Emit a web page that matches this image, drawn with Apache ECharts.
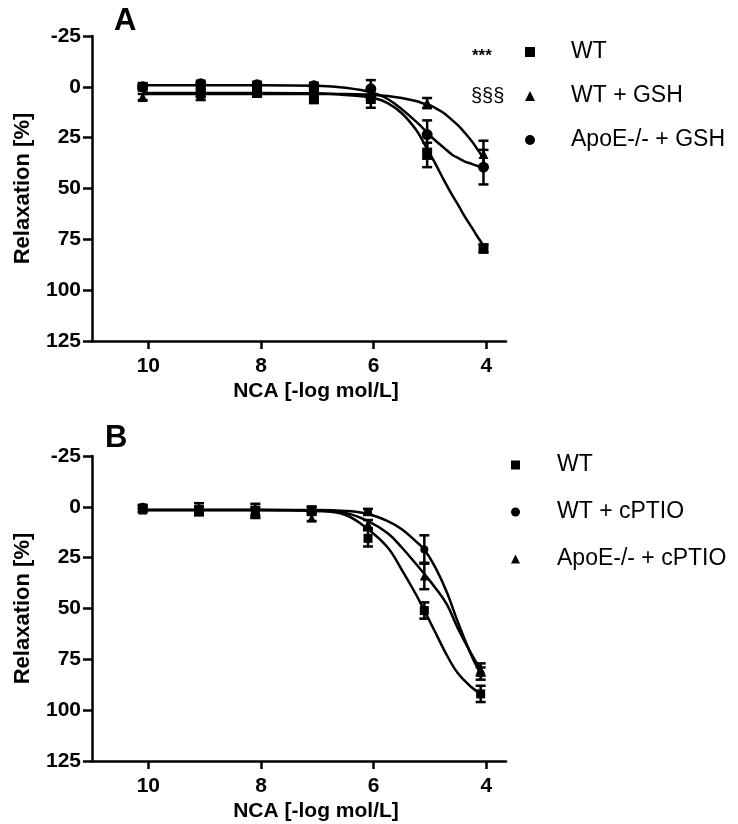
<!DOCTYPE html>
<html>
<head>
<meta charset="utf-8">
<script src="https://cdn.jsdelivr.net/npm/echarts@6/dist/echarts.min.js"></script>
<style>
html,body{margin:0;padding:0;background:#fff;}
#chart{width:738px;height:824px;}
</style>
</head>
<body>
<div id="chart"></div>
<script>
// ---------- data ----------
var xTicks = [10, 8, 6, 4];
var yTicks = [-25, 0, 25, 50, 75, 100, 125];

// Panel A
var namesA = ['WT', 'WT + GSH', 'ApoE-/- + GSH'];
var xA = [10.1, 9.07, 8.07, 7.06, 6.05, 5.05, 4.05];
var wtA = [0, 3, 3, 5, 6, 33.5, 79.5];
var wtAsem = [1, 2, 1.5, 3, 4.3, 6, 2];
var gshA = [5, 4.5, 3, 3, 3.5, 8, 33];
var gshAsem = [1.5, 2, 1.5, 1.5, 2, 2.5, 6.5];
var apoA = [0, -1.5, -1, -0.5, 1, 23.5, 39.5];
var apoAsem = [1, 1.5, 1.5, 1.5, 4.3, 7, 8.5];

var fitXA = [10.1, 9, 8, 7, 6.5, 6, 5.75, 5.5, 5.25, 5.1, 5, 4.9, 4.75, 4.6, 4.5, 4.4, 4.25, 4.15, 4.05];
var wtFitA = [3, 3, 3, 3.2, 4, 5.5, 8, 13, 21, 28, 33, 38, 46, 53.5, 58, 63, 69.5, 74, 78];
var gshFitA = [3.5, 3.5, 3.5, 3.5, 3.5, 4, 4.5, 5.5, 7, 8.3, 9, 10.5, 13, 16.5, 19, 22, 27, 31, 35];
var apoFitA = [-0.8, -0.8, -0.8, -0.5, 0.5, 3, 6, 11, 17, 21, 24, 26.5, 30, 33.5, 35, 36.5, 38, 39, 40];

// Panel B
var namesB = ['WT ', 'WT + cPTIO', 'ApoE-/- + cPTIO'];
var xB = [10.1, 9.1, 8.1, 7.1, 6.1, 5.1, 4.1];
var wtB = [1, 1.2, 2, 1.5, 15.5, 51, 92];
var wtBsem = [1.5, 3, 3.5, 1.5, 4, 4, 4];
var cptB = [0, 1.5, 2, 1.5, 2.5, 21, 82];
var cptBsem = [1, 1.5, 2, 1.5, 1.5, 7, 3];
var apoB = [1.5, 1.5, 3, 5.5, 8.5, 34, 80];
var apoBsem = [1, 1.5, 2, 1.5, 2, 6.5, 3];

var fitXB = [10.1, 9, 8, 7, 6.5, 6.1, 5.75, 5.5, 5.25, 5.1, 4.9, 4.7, 4.5, 4.25, 4.1];
var wtFitB = [1.5, 1.5, 1.5, 2, 4, 11, 20, 31, 43, 51, 62, 73, 82, 89, 92];
var cptFitB = [1.5, 1.5, 1.5, 1.5, 2, 3.5, 7, 11, 17, 21, 30, 42, 57, 74, 82];
var apoFitB = [1.5, 1.5, 1.5, 2, 3, 7, 13, 20, 28, 33, 40, 48, 60, 73, 80];

// ---------- helpers ----------
function zip(xs, ys) { return xs.map(function (x, i) { return [x, ys[i]]; }); }
function errData(xs, ys, es) { return xs.map(function (x, i) { return [x, ys[i] - es[i], ys[i] + es[i]]; }); }

var FONT = 'Liberation Sans';
var LW = 2.5;

function errSeries(idx, xs, ys, es) {
  return {
    type: 'custom', xAxisIndex: idx, yAxisIndex: idx, silent: true, z: 3,
    data: errData(xs, ys, es),
    renderItem: function (params, api) {
      var x = api.value(0);
      var lo = api.coord([x, api.value(1)]);
      var hi = api.coord([x, api.value(2)]);
      var w = 5;
      var st = { stroke: '#000', lineWidth: LW };
      return {
        type: 'group', children: [
          { type: 'line', shape: { x1: lo[0], y1: lo[1], x2: hi[0], y2: hi[1] }, style: st },
          { type: 'line', shape: { x1: lo[0] - w, y1: lo[1], x2: lo[0] + w, y2: lo[1] }, style: st },
          { type: 'line', shape: { x1: hi[0] - w, y1: hi[1], x2: hi[0] + w, y2: hi[1] }, style: st }
        ]
      };
    }
  };
}
function fitSeries(idx, name, xs, ys) {
  return {
    type: 'line', name: name, xAxisIndex: idx, yAxisIndex: idx, smooth: 0.4,
    showSymbol: false, silent: true, z: 2,
    lineStyle: { color: '#000', width: LW }, data: zip(xs, ys)
  };
}
function ptSeries(idx, name, symbol, size, xs, ys) {
  return {
    type: 'scatter', name: name, xAxisIndex: idx, yAxisIndex: idx, symbol: symbol, symbolSize: size,
    itemStyle: { color: '#000', opacity: 1 }, z: 4, data: zip(xs, ys)
  };
}

function xAxisCfg(idx) {
  return {
    type: 'value', gridIndex: idx, inverse: true, min: 3.65, max: 11,
    axisLine: { show: true, onZero: false, lineStyle: { color: '#000', width: LW } },
    axisTick: { show: true, customValues: xTicks, length: 8, lineStyle: { color: '#000', width: LW } },
    axisLabel: { customValues: xTicks, color: '#000', fontFamily: FONT, fontWeight: 'bold', fontSize: 21, margin: 15 },
    splitLine: { show: false },
    name: 'NCA [-log mol/L]', nameLocation: 'middle', nameGap: 40,
    nameTextStyle: { color: '#000', fontFamily: FONT, fontWeight: 'bold', fontSize: 21, padding: [0, 0, 0, 34] }
  };
}
function yAxisCfg(idx) {
  return {
    type: 'value', gridIndex: idx, inverse: true, min: -25, max: 125, interval: 25,
    axisLine: { show: true, onZero: false, lineStyle: { color: '#000', width: LW } },
    axisTick: { show: true, length: 9, lineStyle: { color: '#000', width: LW } },
    axisLabel: { color: '#000', fontFamily: FONT, fontWeight: 'bold', fontSize: 21, margin: 11 },
    splitLine: { show: false },
    name: 'Relaxation [%]', nameLocation: 'middle', nameGap: 58,
    nameTextStyle: { color: '#000', fontFamily: FONT, fontWeight: 'bold', fontSize: 22 }
  };
}

var chart = echarts.init(document.getElementById('chart'), null, { renderer: 'canvas' });
var option = {
  backgroundColor: '#fff',
  animation: false,
  title: [
    { text: 'A', left: 109, top: 1, textStyle: { fontFamily: FONT, fontWeight: 'bold', fontSize: 31, color: '#000' } },
    { text: 'B', left: 100, top: 418, textStyle: { fontFamily: FONT, fontWeight: 'bold', fontSize: 31, color: '#000' } }
  ],
  grid: [
    { left: 92, top: 36, width: 414, height: 305 },
    { left: 92, top: 456, width: 414, height: 305 }
  ],
  xAxis: [xAxisCfg(0), xAxisCfg(1)],
  yAxis: [yAxisCfg(0), yAxisCfg(1)],
  legend: [
    {
      data: namesA, orient: 'vertical', left: 525, top: 40, padding: 0,
      itemWidth: 10, itemHeight: 10, itemGap: 20, symbolKeepAspect: true,
      textStyle: { fontFamily: FONT, fontSize: 23, color: '#000', lineHeight: 24, padding: [0, 0, 0, 31] },
      selectedMode: false
    },
    {
      data: namesB, orient: 'vertical', left: 511, top: 453, padding: 0,
      itemWidth: 9, itemHeight: 9, itemGap: 23, symbolKeepAspect: true,
      textStyle: { fontFamily: FONT, fontSize: 23, color: '#000', lineHeight: 24, padding: [0, 0, 0, 32] },
      selectedMode: false
    }
  ],
  graphic: [
    { type: 'text', left: 472, top: 48, style: { text: '***', font: 'bold 17px "Liberation Sans"', fill: '#000' } },
    { type: 'text', left: 471, top: 86, style: { text: '§§§', font: '20px "Liberation Sans"', fill: '#000' } }
  ],
  series: [
    fitSeries(0, 'WT fit A', fitXA, wtFitA),
    fitSeries(0, 'GSH fit A', fitXA, gshFitA),
    fitSeries(0, 'ApoE fit A', fitXA, apoFitA),
    errSeries(0, xA, wtA, wtAsem),
    errSeries(0, xA, gshA, gshAsem),
    errSeries(0, xA, apoA, apoAsem),
    ptSeries(0, namesA[0], 'rect', 10, xA, wtA),
    ptSeries(0, namesA[1], 'triangle', 10, xA, gshA),
    ptSeries(0, namesA[2], 'circle', 11, xA, apoA),

    fitSeries(1, 'WT fit B', fitXB, wtFitB),
    fitSeries(1, 'cPTIO fit B', fitXB, cptFitB),
    fitSeries(1, 'ApoE fit B', fitXB, apoFitB),
    errSeries(1, xB, wtB, wtBsem),
    errSeries(1, xB, cptB, cptBsem),
    errSeries(1, xB, apoB, apoBsem),
    ptSeries(1, namesB[0], 'rect', 9, xB, wtB),
    ptSeries(1, namesB[1], 'circle', 8, xB, cptB),
    ptSeries(1, namesB[2], 'triangle', 9, xB, apoB)
  ]
};
chart.setOption(option);
</script>
</body>
</html>
